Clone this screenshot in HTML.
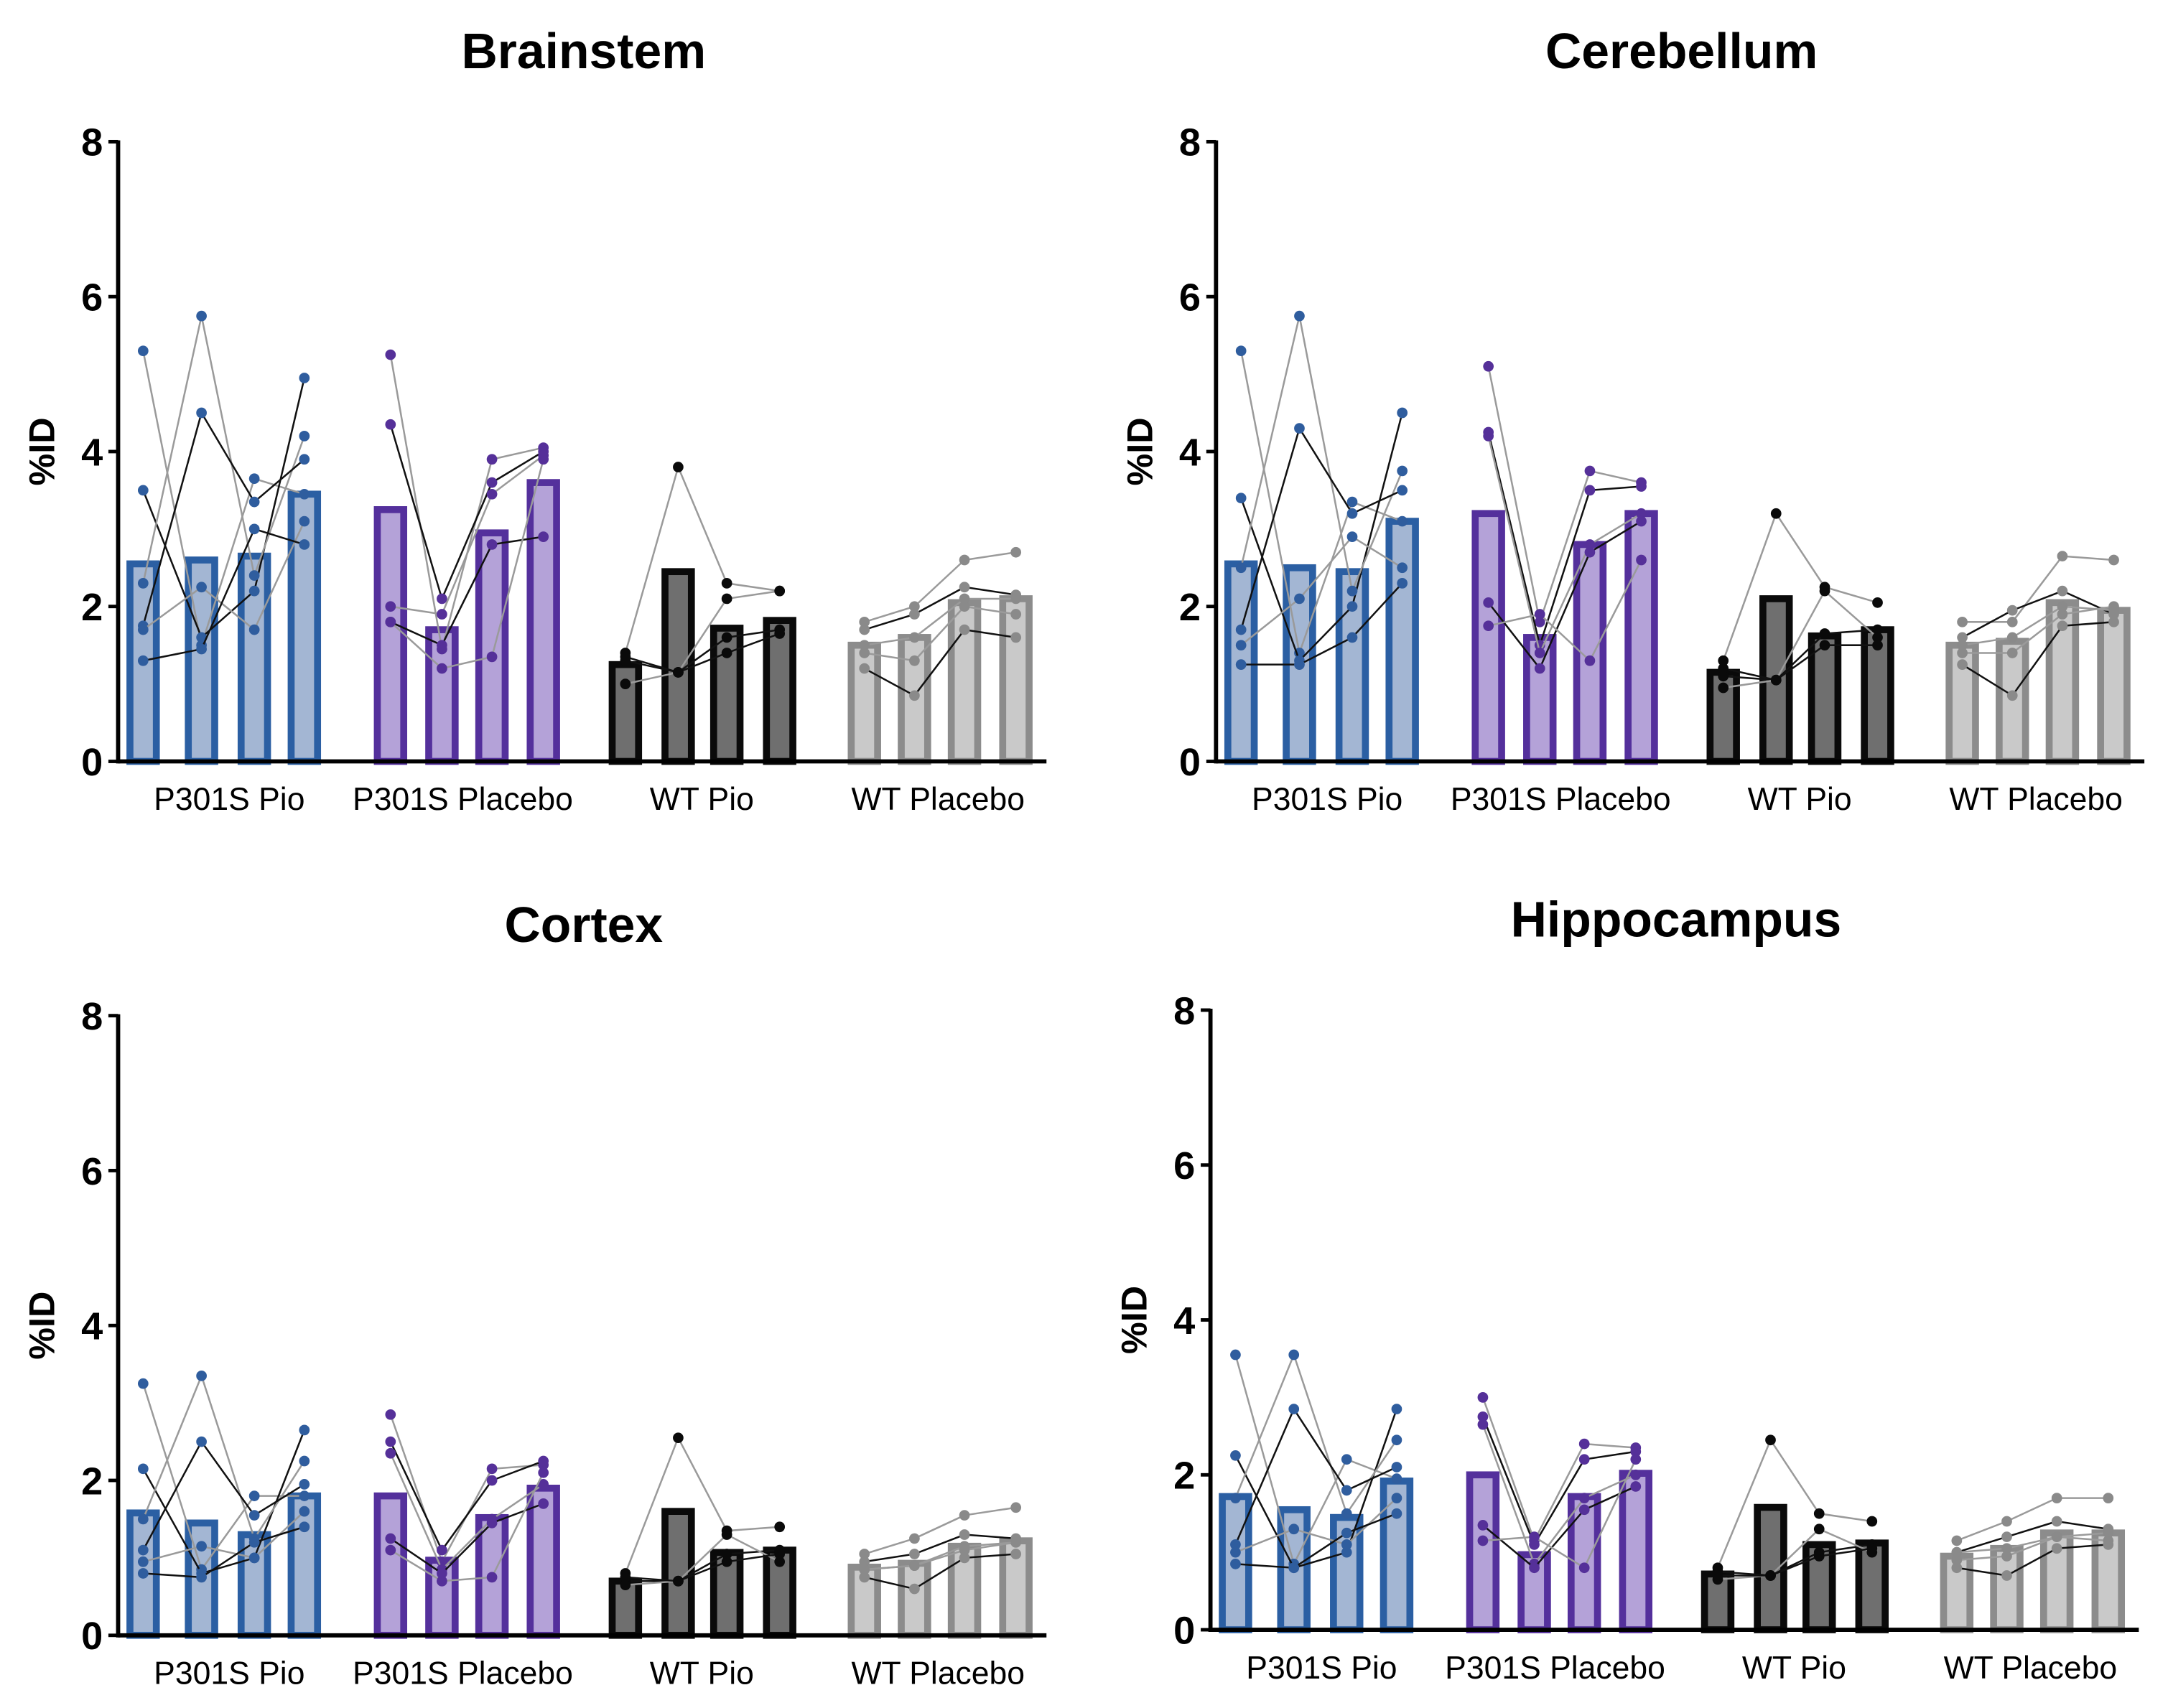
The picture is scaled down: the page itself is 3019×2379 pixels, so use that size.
<!DOCTYPE html>
<html><head><meta charset="utf-8"><style>
html,body{margin:0;padding:0;background:#fff;}
svg{display:block;}
text{font-family:"Liberation Sans",Arial,sans-serif;}
</style></head><body>
<svg id="chart" width="3019" height="2379" viewBox="0 0 1560 1229.3" preserveAspectRatio="none" xmlns="http://www.w3.org/2000/svg"></svg>
<script>
const panelTitles = ["Brainstem","Cerebellum","Cortex","Hippocampus"];
const groupLabels = ["P301S Pio","P301S Placebo","WT Pio","WT Placebo"];
const yTicks = [0,2,4,6,8];
const brainstemMeans = [[2.55,2.6,2.65,3.45],[3.25,1.7,2.95,3.6],[1.25,2.45,1.72,1.82],[1.5,1.6,2.05,2.1]];
const brainstemSubjects = [
 [[5.3,1.5,3.65,3.45],[3.5,1.6,2.2,4.95],[2.3,5.75,2.4,4.2],[1.75,4.5,3.35,3.9],[1.7,2.25,1.7,3.1],[1.3,1.45,3.0,2.8]],
 [[5.25,1.45,3.9,4.05],[4.35,2.1,3.6,4.0],[2.0,1.9,3.45,3.95],[1.8,1.5,2.8,2.9],[1.8,1.2,1.35,3.9]],
 [[1.4,3.8,2.3,2.2],[1.3,1.15,1.6,1.7],[1.0,1.15,2.1,2.2],[1.35,1.15,1.4,1.65]],
 [[1.8,2.0,2.6,2.7],[1.7,1.9,2.25,2.15],[1.4,1.3,2.0,1.9],[1.2,0.85,1.7,1.6],[1.5,1.6,2.1,2.1]]];
const cerebellumMeans = [[2.55,2.5,2.45,3.1],[3.2,1.6,2.8,3.2],[1.15,2.1,1.62,1.7],[1.5,1.55,2.05,1.95]];
const cerebellumSubjects = [
 [[5.3,1.4,3.35,3.1],[3.4,1.3,2.0,4.5],[2.5,5.75,2.2,3.75],[1.7,4.3,3.2,3.5],[1.5,2.1,2.9,2.5],[1.25,1.25,1.6,2.3]],
 [[5.1,1.8,3.75,3.6],[4.25,1.5,3.5,3.55],[4.2,1.4,2.8,3.2],[2.05,1.2,2.7,3.1],[1.75,1.9,1.3,2.6]],
 [[1.3,3.2,2.25,2.05],[1.1,1.05,1.65,1.7],[0.95,1.05,2.2,1.6],[1.2,1.05,1.5,1.5]],
 [[1.8,1.8,2.65,2.6],[1.6,1.95,2.2,1.9],[1.4,1.4,1.9,2.0],[1.25,0.85,1.75,1.8],[1.5,1.6,2.0,1.95]]];
const cortexMeans = [[1.58,1.45,1.3,1.8],[1.8,0.97,1.52,1.9],[0.7,1.6,1.07,1.1],[0.88,0.93,1.15,1.22]];
const cortexSubjects = [
 [[3.25,0.85,1.8,1.8],[2.15,0.8,1.0,2.65],[1.5,3.35,1.25,2.25],[1.1,2.5,1.55,1.95],[0.95,1.15,1.0,1.6],[0.8,0.75,1.2,1.4]],
 [[2.85,0.95,2.15,2.2],[2.5,1.1,2.0,2.25],[2.35,0.85,1.5,1.95],[1.25,0.8,1.45,1.7],[1.1,0.7,0.75,2.1]],
 [[0.8,2.55,1.35,1.4],[0.7,0.7,1.05,1.1],[0.65,0.7,1.3,0.95],[0.75,0.7,0.95,1.05]],
 [[1.05,1.25,1.55,1.65],[0.95,1.05,1.3,1.25],[0.85,0.9,1.15,1.2],[0.75,0.6,1.0,1.05],[0.85,0.9,1.1,1.2]]];
const hippoMeans = [[1.72,1.55,1.45,1.92],[2.0,0.97,1.72,2.02],[0.72,1.58,1.1,1.12],[0.95,1.05,1.25,1.25]];
const hippoSubjects = [
 [[3.55,0.85,2.2,1.95],[2.25,0.8,1.0,2.85],[1.7,3.55,1.5,2.45],[1.1,2.85,1.8,2.1],[1.0,1.3,1.1,1.7],[0.85,0.8,1.25,1.5]],
 [[3.0,1.15,2.4,2.35],[2.75,1.1,2.2,2.3],[2.65,0.85,1.7,2.0],[1.35,0.8,1.55,1.85],[1.15,1.2,0.8,2.2]],
 [[0.8,2.45,1.5,1.4],[0.75,0.7,1.0,1.1],[0.65,0.7,1.3,1.0],[0.7,0.7,0.95,1.05]],
 [[1.15,1.4,1.7,1.7],[1.0,1.2,1.4,1.3],[0.9,0.95,1.2,1.15],[0.8,0.7,1.05,1.1],[1.0,1.05,1.2,1.25]]];

const NS="http://www.w3.org/2000/svg";
const svg=document.getElementById('chart');
function mk(tag,attrs,parent){const e=document.createElementNS(NS,tag);for(const k in attrs)e.setAttribute(k,attrs[k]);(parent||svg).appendChild(e);return e;}
const panels=[
 {ox:0,oy:0,means:brainstemMeans,subs:brainstemSubjects},
 {ox:790,oy:0,means:cerebellumMeans,subs:cerebellumSubjects},
 {ox:0,oy:629,means:cortexMeans,subs:cortexSubjects},
 {ox:786,oy:625,means:hippoMeans,subs:hippoSubjects}];
const styles=[
 {stroke:"#2b5fa3",fill:"#a3b6d3",dot:"#2f5d9e"},
 {stroke:"#54309c",fill:"#b4a2d8",dot:"#553099"},
 {stroke:"#0a0a0a",fill:"#6f6f6f",dot:"#0a0a0a"},
 {stroke:"#8c8c8c",fill:"#c9c9c9",dot:"#8a8a8a"}];
const barOffsets=[[18,60,98,134],[196,233,269,306],[365,403,438,476],[537,573,609,646]];
const labelX=[80,248,420,590];
panels.forEach((p,pi)=>{
 const g=mk('g',{});
 
 
 const ax=85+p.ox, y0=548+p.oy, y8=102+p.oy;
 const ys=v=>y0-(v/8)*(y0-y8);
 const t=mk('text',{x:ax+335,y:49+p.oy,'text-anchor':'middle','font-size':36,'font-weight':'bold',fill:'#000'},g);
 t.textContent=panelTitles[pi];
 
 
 const yl=mk('text',{x:0,y:0,transform:`translate(${ax-46},${(y0+y8)/2}) rotate(-90)`,'text-anchor':'middle','font-size':26,'font-weight':'bold'},g);
 yl.textContent='%ID';
 
 
 yTicks.forEach(v=>{
  const tl=mk('text',{x:ax-11,y:ys(v)+10,'text-anchor':'end','font-size':28,'font-weight':'bold'},g);
  tl.textContent=v;
  
  
  mk('line',{x1:ax-7,x2:ax,y1:ys(v),y2:ys(v),stroke:'#000','stroke-width':2.5},g);
 });
 p.means.forEach((gm,gi)=>{
  const st=styles[gi];
  gm.forEach((m,bi)=>{
   const cx=ax+barOffsets[gi][bi];
   const r=mk('rect',{x:cx-9.5,y:ys(m),width:19,height:y0-ys(m),fill:st.fill,stroke:st.stroke,'stroke-width':5},g);
   
   
  });
  p.subs[gi].forEach((s,si)=>{
   const col=si%2? '#111':'#9a9a9a';
   for(let bi=0;bi<3;bi++){
    mk('line',{x1:ax+barOffsets[gi][bi],y1:ys(s[bi]),x2:ax+barOffsets[gi][bi+1],y2:ys(s[bi+1]),stroke:col,'stroke-width':1.3},g);
   }
   s.forEach((v,bi)=>{
    const c=mk('circle',{cx:ax+barOffsets[gi][bi],cy:ys(v),r:3.8,fill:st.dot},g);
    
    
   });
  });
  const xl=mk('text',{x:ax+labelX[gi],y:y0+35,'text-anchor':'middle','font-size':23},g);
  xl.textContent=groupLabels[gi];
  
  
 });
 mk('line',{x1:ax,x2:ax,y1:y8-1,y2:y0+1.5,stroke:'#000','stroke-width':3},g);
 mk('line',{x1:ax,x2:ax+668,y1:y0,y2:y0,stroke:'#000','stroke-width':3},g);
});
</script>
</body></html>
